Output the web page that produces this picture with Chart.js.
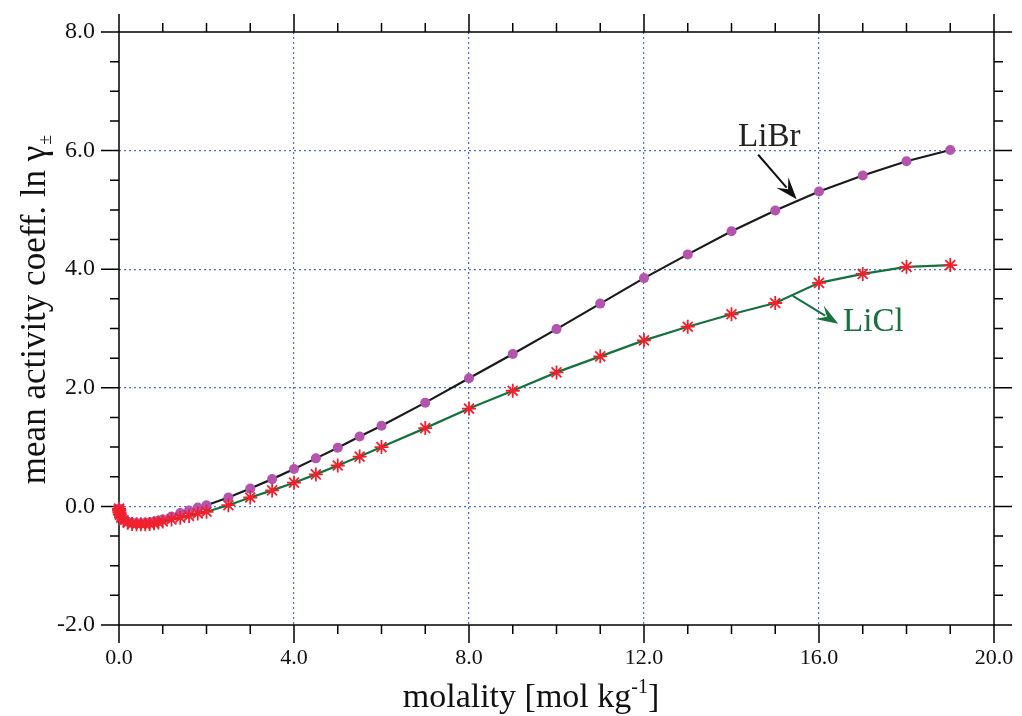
<!DOCTYPE html>
<html>
<head>
<meta charset="utf-8">
<script src="https://cdn.jsdelivr.net/npm/chart.js@4.4.1/dist/chart.umd.min.js"></script>
<style>
  html, body { margin: 0; padding: 0; background: #fff; }
  #wrap { width: 1022px; height: 716px; }
</style>
</head>
<body>
<div id="wrap"><canvas id="myChart"></canvas></div>
<script>
// molality [mol/kg] and ln(gamma +-)
let molality = [0.001, 0.002, 0.005, 0.01, 0.02, 0.05, 0.1, 0.2, 0.3, 0.4, 0.5, 0.6, 0.7, 0.8, 0.9, 1.0,
    1.2, 1.4, 1.6, 1.8, 2.0, 2.5, 3.0, 3.5, 4.0, 4.5, 5.0, 5.5, 6.0,
    7, 8, 9, 10, 11, 12, 13, 14, 15, 16, 17, 18, 19];
let libr = [-0.035, -0.05, -0.075, -0.10, -0.13, -0.18, -0.22, -0.26, -0.28, -0.285, -0.285, -0.28, -0.27, -0.26, -0.24, -0.22,
    -0.17, -0.11, -0.07, -0.02, 0.02, 0.15, 0.30, 0.46, 0.63, 0.81, 0.99, 1.18, 1.36,
    1.75, 2.16, 2.57, 2.99, 3.42, 3.85, 4.25, 4.64, 4.99, 5.31, 5.58, 5.82, 6.01];
let licl = [-0.036, -0.05, -0.077, -0.105, -0.14, -0.19, -0.235, -0.275, -0.295, -0.30, -0.30, -0.30, -0.295, -0.285, -0.27, -0.255,
    -0.22, -0.19, -0.16, -0.12, -0.09, 0.02, 0.15, 0.27, 0.40, 0.54, 0.69, 0.84, 1.00,
    1.32, 1.65, 1.95, 2.26, 2.53, 2.80, 3.03, 3.24, 3.43, 3.77, 3.92, 4.04, 4.07];

let xTicks = [0, 4, 8, 12, 16, 20];
let yTicks = [-2, 0, 2, 4, 6, 8];

const serif = '"Liberation Serif", "DejaVu Serif", serif';
Chart.defaults.font.family = serif;
Chart.defaults.color = '#111';

function pts(ys) {
    return molality.map((m, i) => ({ x: m, y: ys[i] }));
}

// frame with outward major/minor ticks on all four sides
const framePlugin = {
    id: 'frame',
    beforeDatasetsDraw(chart) {
        const c = chart.ctx, a = chart.chartArea;
        const sx = chart.scales.x, sy = chart.scales.y;
        c.save();
        c.strokeStyle = '#000';
        c.lineWidth = 1.5;
        c.strokeRect(a.left, a.top, a.right - a.left, a.bottom - a.top);
        c.beginPath();
        for (let v = 0; v <= 20; v++) {
            const px = sx.getPixelForValue(v);
            const len = v % 4 === 0 ? 18 : 9;
            c.moveTo(px, a.bottom); c.lineTo(px, a.bottom + len);
            c.moveTo(px, a.top); c.lineTo(px, a.top - len);
        }
        for (let v = -2; v <= 8.001; v += 0.5) {
            const py = sy.getPixelForValue(v);
            const len = Math.abs(v % 2) < 0.001 ? 18 : 9;
            c.moveTo(a.left, py); c.lineTo(a.left - len, py);
            c.moveTo(a.right, py); c.lineTo(a.right + len, py);
        }
        c.stroke();
        c.restore();
    }
};

function arrow(c, x1, y1, x2, y2, color) {
    const ang = Math.atan2(y2 - y1, x2 - x1);
    const cs = Math.cos(ang), sn = Math.sin(ang);
    const hl = 22, hw = 8;
    c.strokeStyle = color;
    c.fillStyle = color;
    c.lineWidth = 2;
    c.beginPath();
    c.moveTo(x1, y1);
    c.lineTo(x2 - hl * 0.7 * cs, y2 - hl * 0.7 * sn);
    c.stroke();
    c.beginPath();
    c.moveTo(x2, y2);
    c.lineTo(x2 - hl * cs + hw * sn, y2 - hl * sn - hw * cs);
    c.lineTo(x2 - hl * 0.6 * cs, y2 - hl * 0.6 * sn);
    c.lineTo(x2 - hl * cs - hw * sn, y2 - hl * sn + hw * cs);
    c.closePath();
    c.fill();
}

// series labels with arrows, axis titles
const labelPlugin = {
    id: 'labels',
    afterDatasetsDraw(chart) {
        const c = chart.ctx;
        const sx = chart.scales.x, sy = chart.scales.y;
        const X = v => sx.getPixelForValue(v), Y = v => sy.getPixelForValue(v);
        c.save();
        c.font = '33px ' + serif;
        c.textBaseline = 'alphabetic';
        c.fillStyle = '#222';
        c.fillText('LiBr', X(14.15), Y(6.08));
        arrow(c, X(14.61), Y(5.93), X(15.49), Y(5.18), '#111');
        c.fillStyle = '#17703f';
        c.fillText('LiCl', X(16.55), Y(2.95));
        arrow(c, X(15.4), Y(3.55), X(16.44), Y(3.08), '#17703f');

        // x title with superscript
        c.fillStyle = '#111';
        c.font = '34px ' + serif;
        const t1 = 'molality [mol kg', t2 = '-1', t3 = ']';
        const w1 = c.measureText(t1).width;
        c.font = '20px ' + serif;
        const w2 = c.measureText(t2).width;
        c.font = '34px ' + serif;
        const w3 = c.measureText(t3).width;
        let x0 = 531 - (w1 + w2 + w3) / 2;
        const by = 707;
        c.fillText(t1, x0, by);
        c.font = '20px ' + serif;
        c.fillText(t2, x0 + w1, by - 14);
        c.font = '34px ' + serif;
        c.fillText(t3, x0 + w1 + w2, by);

        // y title with subscript
        c.translate(45, 310);
        c.rotate(-Math.PI / 2);
        c.font = '35px ' + serif;
        const s1 = 'mean activity coeff. ln γ', s2 = '±';
        const v1 = c.measureText(s1).width;
        c.font = '18px ' + serif;
        const v2 = c.measureText(s2).width;
        const sx0 = -(v1 + v2) / 2;
        c.font = '35px ' + serif;
        c.fillText(s1, sx0, 0);
        c.font = '18px ' + serif;
        c.fillText(s2, sx0 + v1 + 1, 6);
        c.restore();
    }
};

const gridColor = ctx => (ctx.index === 0 || ctx.index === ctx.scale.ticks.length - 1) ? 'rgba(0,0,0,0)' : '#4f6fcf';

const ctx = document.getElementById('myChart').getContext('2d');
const myChart = new Chart(ctx, {
    type: 'scatter',
    data: {
        datasets: [
            {
                label: 'LiCl',
                data: pts(licl),
                showLine: true,
                borderColor: '#17703f',
                borderWidth: 2.2,
                pointStyle: 'star',
                pointRadius: 7,
                pointBorderColor: '#f0202c',
                pointBackgroundColor: '#f0202c',
                pointBorderWidth: 1.8,
                clip: false,
                tension: 0
            },
            {
                label: 'LiBr',
                data: pts(libr),
                showLine: true,
                borderColor: '#1a1a1a',
                borderWidth: 2.2,
                pointStyle: 'circle',
                pointRadius: 5,
                pointBorderWidth: 0,
                pointBackgroundColor: '#b354ae',
                pointBorderColor: '#b354ae',
                clip: false,
                tension: 0
            }
        ]
    },
    options: {
        responsive: true,
        maintainAspectRatio: false,
        animation: false,
        events: [],
        layout: { padding: { top: 32, right: 28, left: 0, bottom: 0 } },
        plugins: { legend: { display: false }, tooltip: { enabled: false } },
        scales: {
            x: {
                type: 'linear',
                min: 0, max: 20,
                afterBuildTicks: s => { s.ticks = xTicks.map(v => ({ value: v })); },
                afterFit: s => { s.height = 91; s.paddingLeft = 0; s.paddingRight = 0; },
                ticks: {
                    callback: v => v.toFixed(1),
                    padding: 20,
                    font: { size: 22 },
                    maxRotation: 0,
                    autoSkip: false
                },
                border: { display: false, dash: [2, 3] },
                grid: { drawTicks: false, color: gridColor, lineWidth: 1.2 }
            },
            y: {
                type: 'linear',
                min: -2, max: 8,
                afterBuildTicks: s => { s.ticks = yTicks.map(v => ({ value: v })); },
                afterFit: s => { s.width = 119; s.paddingTop = 0; s.paddingBottom = 0; },
                ticks: {
                    callback: v => v.toFixed(1),
                    padding: 24,
                    font: { size: 24 },
                    autoSkip: false
                },
                border: { display: false, dash: [2, 3] },
                grid: { drawTicks: false, color: gridColor, lineWidth: 1.2 }
            }
        }
    },
    plugins: [framePlugin, labelPlugin]
});
</script>
</body>
</html>
